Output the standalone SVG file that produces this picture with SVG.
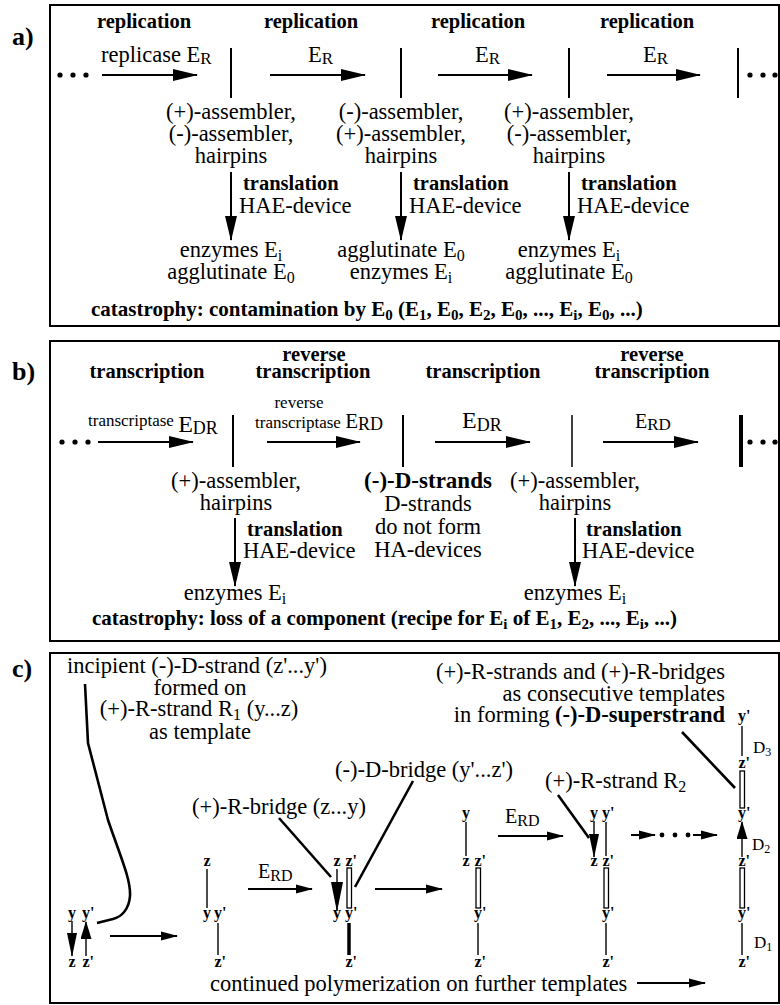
<svg xmlns="http://www.w3.org/2000/svg" width="780" height="1005" viewBox="0 0 780 1005">
<defs>
<style>
text{font-family:"Liberation Serif","Times New Roman",serif;fill:#000}
.t{font-size:22.5px}
.m{text-anchor:middle}
.e{text-anchor:end}
.h{font-size:20.5px;font-weight:bold;text-anchor:middle}
.tb{font-size:20.5px;font-weight:bold}
.lab{font-size:26px;font-weight:bold}
.cat{font-size:21px;font-weight:bold}
.l{font-size:16px;font-weight:bold}
.s17{font-size:17px}
.box{fill:none;stroke:#000;stroke-width:2}
.ln{stroke:#000;stroke-width:2;fill:none}
.ld{stroke:#000;stroke-width:2.6;fill:none}
.th{stroke:#000;stroke-width:1.4;fill:none}
.bar{fill:#fff;stroke:#000;stroke-width:1.3}
.sep{stroke:#000;stroke-width:2}
</style>
<marker id="ah" markerUnits="userSpaceOnUse" markerWidth="25" markerHeight="13" refX="24" refY="6.5" orient="auto"><path d="M0,0.5 L25,6.5 L0,12.5 z"/></marker>
<marker id="ahs" markerUnits="userSpaceOnUse" markerWidth="17" markerHeight="10" refX="16" refY="5" orient="auto"><path d="M0,0.5 L17,5 L0,9.5 z"/></marker>
<marker id="ahv" markerUnits="userSpaceOnUse" markerWidth="24" markerHeight="11" refX="23" refY="5.5" orient="auto"><path d="M0,0.5 L24,5.5 L0,10.5 z"/></marker>
<marker id="ahl" markerUnits="userSpaceOnUse" markerWidth="30" markerHeight="12" refX="29" refY="6" orient="auto"><path d="M0,0 L30,6 L0,12 z"/></marker>
<marker id="ahu" markerUnits="userSpaceOnUse" markerWidth="18" markerHeight="11" refX="17" refY="5.5" orient="auto"><path d="M0,0 L18,5.5 L0,11 z"/></marker>
</defs>

<!-- ================= PANEL A ================= -->
<g id="panel-a">
  <rect class="box" x="50" y="5" width="729" height="321"/>
  <text class="lab" x="12" y="45">a)</text>
</g>
<g id="a-headings">
  <text class="h" x="144" y="28">replication</text>
  <text class="h" x="311" y="28">replication</text>
  <text class="h" x="478" y="28">replication</text>
  <text class="h" x="647" y="28">replication</text>
</g>
<g id="a-enzymes">
  <text class="t" x="101" y="62">replicase E<tspan font-size="17" dy="2">R</tspan></text>
  <text class="t" x="308" y="62">E<tspan font-size="17" dy="2">R</tspan></text>
  <text class="t" x="475" y="62">E<tspan font-size="17" dy="2">R</tspan></text>
  <text class="t" x="643" y="62">E<tspan font-size="17" dy="2">R</tspan></text>
</g>
<g id="a-dots-left"><circle cx="60" cy="75" r="2.6"/><circle cx="73" cy="75" r="2.6"/><circle cx="86" cy="75" r="2.6"/></g>
<g id="a-dots-right"><circle cx="750" cy="75" r="2.6"/><circle cx="763" cy="75" r="2.6"/><circle cx="775" cy="75" r="2.6"/></g>
<g id="a-bars">
  <line class="sep" x1="231" y1="48" x2="231" y2="98"/>
  <line class="sep" x1="401" y1="48" x2="401" y2="98"/>
  <line class="sep" x1="569" y1="48" x2="569" y2="98"/>
  <line class="sep" x1="738" y1="48" x2="738" y2="98"/>
</g>
<g id="a-strands-1">
  <text class="t m" x="231" y="119">(+)-assembler,</text>
  <text class="t m" x="231" y="141">(-)-assembler,</text>
  <text class="t m" x="231" y="163">hairpins</text>
</g>
<g id="a-strands-2">
  <text class="t m" x="401" y="119">(-)-assembler,</text>
  <text class="t m" x="401" y="141">(+)-assembler,</text>
  <text class="t m" x="401" y="163">hairpins</text>
</g>
<g id="a-strands-3">
  <text class="t m" x="569" y="119">(+)-assembler,</text>
  <text class="t m" x="569" y="141">(-)-assembler,</text>
  <text class="t m" x="569" y="163">hairpins</text>
</g>
<g id="a-translation">
  <text class="tb" x="243" y="190">translation</text>
  <text class="t" x="239" y="213">HAE-device</text>
  <text class="tb" x="413" y="190">translation</text>
  <text class="t" x="409" y="213">HAE-device</text>
  <text class="tb" x="581" y="190">translation</text>
  <text class="t" x="577" y="213">HAE-device</text>
</g>
<g id="a-products-1">
  <text class="t m" x="231" y="257">enzymes E<tspan font-size="16" dy="4">i</tspan></text>
  <text class="t m" x="231" y="279">agglutinate E<tspan font-size="16" dy="4">0</tspan></text>
</g>
<g id="a-products-2">
  <text class="t m" x="401" y="257">agglutinate E<tspan font-size="16" dy="4">0</tspan></text>
  <text class="t m" x="401" y="279">enzymes E<tspan font-size="16" dy="4">i</tspan></text>
</g>
<g id="a-products-3">
  <text class="t m" x="569" y="257">enzymes E<tspan font-size="16" dy="4">i</tspan></text>
  <text class="t m" x="569" y="279">agglutinate E<tspan font-size="16" dy="4">0</tspan></text>
</g>
<g id="a-catastrophy">
  <text class="cat" x="91" y="316">catastrophy: contamination by E<tspan font-size="15" dy="4">0</tspan><tspan dy="-4"> (E</tspan><tspan font-size="15" dy="4">1</tspan><tspan dy="-4">, E</tspan><tspan font-size="15" dy="4">0</tspan><tspan dy="-4">, E</tspan><tspan font-size="15" dy="4">2</tspan><tspan dy="-4">, E</tspan><tspan font-size="15" dy="4">0</tspan><tspan dy="-4">, ..., E</tspan><tspan font-size="15" dy="4">i</tspan><tspan dy="-4">, E</tspan><tspan font-size="15" dy="4">0</tspan><tspan dy="-4">, ...)</tspan></text>
</g>

<!-- ================= PANEL B ================= -->
<g id="panel-b">
  <rect class="box" x="50" y="341" width="729" height="300"/>
  <text class="lab" x="12" y="380">b)</text>
</g>
<g id="b-headings">
  <text class="h" x="147" y="378">transcription</text>
  <text class="h" x="314" y="361">reverse</text>
  <text class="h" x="313" y="378">transcription</text>
  <text class="h" x="483" y="378">transcription</text>
  <text class="h" x="652" y="361">reverse</text>
  <text class="h" x="652" y="378">transcription</text>
</g>
<g id="b-enzymes">
  <text class="s17" x="88" y="426">transcriptase <tspan font-size="24" dy="6">E</tspan><tspan font-size="18" dy="2">DR</tspan></text>
  <text class="s17 m" x="299" y="408">reverse</text>
  <text class="s17" x="255" y="428">transcriptase <tspan font-size="21">E</tspan><tspan font-size="18" dy="2">RD</tspan></text>
  <text x="462" y="428" font-size="24">E<tspan font-size="18" dy="3">DR</tspan></text>
  <text x="635" y="428" font-size="20">E<tspan font-size="17" dy="2">RD</tspan></text>
</g>
<g id="b-dots-left"><circle cx="62" cy="442" r="2.6"/><circle cx="75" cy="442" r="2.6"/><circle cx="88" cy="442" r="2.6"/></g>
<g id="b-dots-right"><circle cx="750" cy="442" r="2.6"/><circle cx="763" cy="442" r="2.6"/><circle cx="775" cy="442" r="2.6"/></g>
<g id="b-bars">
  <line class="sep" x1="233" y1="415" x2="233" y2="467"/>
  <line class="sep" x1="403" y1="415" x2="403" y2="467"/>
  <line x1="572" y1="415" x2="572" y2="467" stroke="#000" stroke-width="1.5"/>
  <line x1="741" y1="415" x2="741" y2="467" stroke="#000" stroke-width="4"/>
</g>
<g id="b-strands-1">
  <text class="t m" x="236" y="488">(+)-assembler,</text>
  <text class="t m" x="236" y="510">hairpins</text>
</g>
<g id="b-strands-2">
  <text class="m" x="428" y="488" font-size="23" font-weight="bold">(-)-D-strands</text>
  <text class="t m" x="428" y="511">D-strands</text>
  <text class="t m" x="428" y="534">do not form</text>
  <text class="t m" x="428" y="557">HA-devices</text>
</g>
<g id="b-strands-3">
  <text class="t m" x="575" y="488">(+)-assembler,</text>
  <text class="t m" x="575" y="510">hairpins</text>
</g>
<g id="b-translation">
  <text class="tb" x="247" y="536">translation</text>
  <text class="t" x="243" y="558">HAE-device</text>
  <text class="tb" x="586" y="536">translation</text>
  <text class="t" x="582" y="558">HAE-device</text>
</g>
<g id="b-products">
  <text class="t m" x="235" y="600">enzymes E<tspan font-size="16" dy="4">i</tspan></text>
  <text class="t m" x="575" y="600">enzymes E<tspan font-size="16" dy="4">i</tspan></text>
</g>
<g id="b-catastrophy">
  <text class="cat" x="92" y="625">catastrophy: loss of a component (recipe for E<tspan font-size="15" dy="4">i</tspan><tspan dy="-4"> of E</tspan><tspan font-size="15" dy="4">1</tspan><tspan dy="-4">, E</tspan><tspan font-size="15" dy="4">2</tspan><tspan dy="-4">, ..., E</tspan><tspan font-size="15" dy="4">i</tspan><tspan dy="-4">, ...)</tspan></text>
</g>

<!-- ================= PANEL C ================= -->
<g id="panel-c">
  <rect class="box" x="50" y="653" width="729" height="350"/>
  <text class="lab" x="12" y="677">c)</text>
</g>
<g id="c-incipient-label">
  <text class="t" x="67" y="673">incipient (-)-D-strand (z'...y')</text>
  <text class="t m" x="200" y="695">formed on</text>
  <text class="t m" x="199" y="716">(+)-R-strand R<tspan font-size="16" dy="4">1</tspan><tspan dy="-4"> (y...z)</tspan></text>
  <text class="t m" x="200" y="739">as template</text>
</g>
<g id="c-superstrand-label">
  <text class="t e" x="725" y="679">(+)-R-strands and (+)-R-bridges</text>
  <text class="t e" x="725" y="701">as consecutive templates</text>
  <text class="t e" x="725" y="722">in forming <tspan font-weight="bold">(-)-D-superstrand</tspan></text>
</g>
<g id="c-dbridge-label"><text class="t" x="335" y="777">(-)-D-bridge (y'...z')</text></g>
<g id="c-rbridge-label"><text class="t" x="192" y="814">(+)-R-bridge (z...y)</text></g>
<g id="c-rstrand2-label"><text class="t" x="545" y="788">(+)-R-strand R<tspan font-size="16" dy="4">2</tspan></text></g>
<g id="c-erd-1"><text x="258" y="878" font-size="20">E<tspan font-size="16" dy="3">RD</tspan></text></g>
<g id="c-erd-2"><text x="505" y="823" font-size="20">E<tspan font-size="16" dy="3">RD</tspan></text></g>

<g id="c-struct-1">
  <text class="l" x="68" y="918">y</text><text class="l" x="82" y="918">y'</text>
  <text class="l" x="68.5" y="967">z</text><text class="l" x="82.5" y="967">z'</text>
</g>
<g id="c-struct-2">
  <text class="l" x="203.5" y="866">z</text>
  <text class="l" x="203" y="918">y</text><text class="l" x="214" y="918">y'</text>
  <text class="l" x="214.5" y="967">z'</text>
  <line class="th" x1="207" y1="869" x2="207" y2="908"/>
  <line class="th" x1="218" y1="923" x2="218" y2="955"/>
</g>
<g id="c-struct-3">
  <text class="l" x="333.5" y="866">z</text><text class="l" x="345.5" y="866">z'</text>
  <text class="l" x="333" y="918">y</text><text class="l" x="345" y="918">y'</text>
  <text class="l" x="345.5" y="967">z'</text>
  <rect class="bar" x="347" y="868" width="4.5" height="40"/>
  <line x1="349" y1="923" x2="349" y2="955" stroke="#000" stroke-width="3.5"/>
</g>
<g id="c-struct-4">
  <text class="l" x="462" y="818">y</text>
  <text class="l" x="462.5" y="866">z</text><text class="l" x="474.5" y="866">z'</text>
  <text class="l" x="474" y="918">y'</text>
  <text class="l" x="474.5" y="967">z'</text>
  <line class="th" x1="466" y1="822" x2="466" y2="856"/>
  <rect class="bar" x="476" y="868" width="4.5" height="40"/>
  <line class="th" x1="478" y1="923" x2="478" y2="955"/>
</g>
<g id="c-struct-5">
  <text class="l" x="590" y="818">y</text><text class="l" x="602" y="818">y'</text>
  <text class="l" x="590.5" y="866">z</text><text class="l" x="602.5" y="866">z'</text>
  <text class="l" x="602" y="918">y'</text>
  <text class="l" x="602.5" y="967">z'</text>
  <line class="th" x1="606" y1="822" x2="606" y2="856"/>
  <rect class="bar" x="604" y="868" width="4.5" height="40"/>
  <line class="th" x1="606" y1="923" x2="606" y2="955"/>
</g>
<g id="c-struct-6">
  <text class="l" x="738" y="721">y'</text>
  <text class="l" x="738.5" y="768">z'</text>
  <text class="l" x="738" y="818">y'</text>
  <text class="l" x="738.5" y="866">z'</text>
  <text class="l" x="738" y="918">y'</text>
  <text class="l" x="738.5" y="967">z'</text>
  <line class="th" x1="742" y1="726" x2="742" y2="756"/>
  <rect class="bar" x="740" y="771" width="4.5" height="37"/>
  <rect class="bar" x="740" y="868" width="4.5" height="40"/>
  <line class="th" x1="742" y1="923" x2="742" y2="955"/>
  <text x="753" y="753" font-size="17">D<tspan font-size="12" dy="3">3</tspan></text>
  <text x="752" y="850" font-size="17">D<tspan font-size="12" dy="3">2</tspan></text>
  <text x="754" y="948" font-size="17">D<tspan font-size="12" dy="3">1</tspan></text>
</g>
<g id="c-dots"><circle cx="662" cy="835" r="2.4"/><circle cx="675" cy="835" r="2.4"/><circle cx="688" cy="835" r="2.4"/></g>
<g id="c-bottom-label">
  <text class="t" x="210" y="991">continued polymerization on further templates</text>
</g>

<!-- ================= CONNECTORS ================= -->
<g id="connectors">
  <path class="ln" d="M102,75H197" marker-end="url(#ah)"/>
  <path class="ln" d="M270,75H365" marker-end="url(#ah)"/>
  <path class="ln" d="M438,75H532" marker-end="url(#ah)"/>
  <path class="ln" d="M607,75H700" marker-end="url(#ah)"/>
  <path class="ln" d="M231,172V240" marker-end="url(#ah)"/>
  <path class="ln" d="M401,172V240" marker-end="url(#ah)"/>
  <path class="ln" d="M569,172V240" marker-end="url(#ah)"/>
  <path class="ln" d="M98,442H193" marker-end="url(#ah)"/>
  <path class="ln" d="M267,442H360" marker-end="url(#ah)"/>
  <path class="ln" d="M435,442H530" marker-end="url(#ah)"/>
  <path class="ln" d="M603,442H698" marker-end="url(#ah)"/>
  <path class="ln" d="M235,518V586" marker-end="url(#ah)"/>
  <path class="ln" d="M575,518V586" marker-end="url(#ah)"/>
  <path class="ln" d="M110,936H177" marker-end="url(#ahs)"/>
  <path class="ln" d="M248,889H312" marker-end="url(#ahs)"/>
  <path class="ln" d="M375,889H442" marker-end="url(#ahs)"/>
  <path class="ln" d="M498,836H563" marker-end="url(#ahs)"/>
  <path class="ln" d="M631,835H655" marker-end="url(#ahs)"/>
  <path class="ln" d="M693,835H717" marker-end="url(#ahs)"/>
  <path class="ln" d="M637,983H705" marker-end="url(#ahs)"/>
  <path class="th" d="M72,921V956" marker-end="url(#ahv)"/>
  <path class="th" d="M86,956V922" marker-end="url(#ahu)"/>
  <path class="th" d="M337,869V911" marker-end="url(#ahl)"/>
  <path class="th" d="M594,821V857" marker-end="url(#ahv)"/>
  <path class="th" d="M742,857V822" marker-end="url(#ahu)"/>
  <path class="ld" d="M85,684 L88,743 L108,820 C121,858 131,880 130,896 C129,910 121,917 113,919 L97,923"/>
  <path class="ld" d="M279,818 L331,877"/>
  <path class="ld" d="M413,781 L355,887"/>
  <path class="ld" d="M558,795 L589,838"/>
  <path class="ld" d="M682,732 L735,788"/>
</g>
</svg>
